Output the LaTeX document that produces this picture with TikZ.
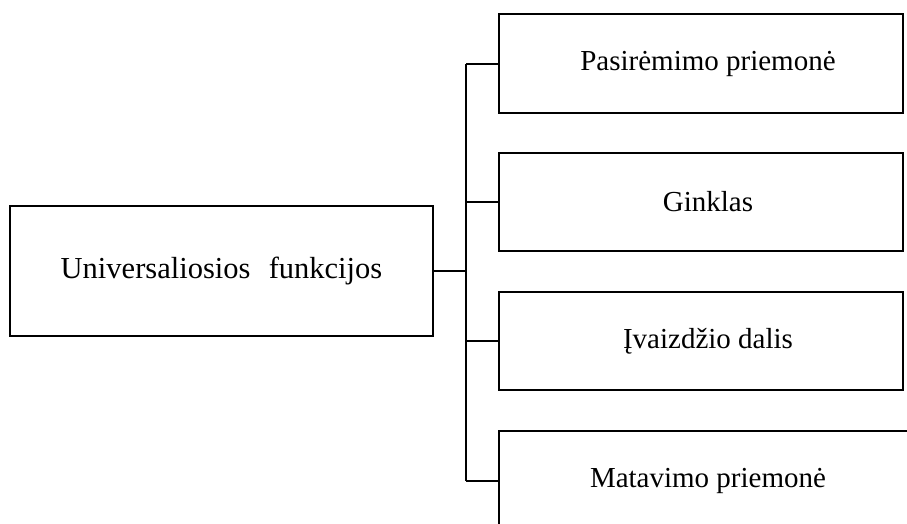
\documentclass[tikz,border=0pt]{standalone}
\usepackage{fontspec}
\setmainfont{Liberation Serif}
\begin{document}
\begin{tikzpicture}[x=1pt,y=-1pt,
  box/.style={draw=black,line width=2pt,rectangle,inner sep=0pt,font=\fontsize{29}{34}\selectfont},
  bigbox/.style={box,font=\fontsize{30.5}{36}\selectfont},
  conn/.style={draw=black,line width=2pt}]
\useasboundingbox (0,0) rectangle (907,523);
\clip (0,0) rectangle (907,523);
\node[bigbox,minimum width=423pt,minimum height=130pt] (L) at (221.5,271) {Universaliosios\hspace{0.6em}funkcijos};
\node[box,minimum width=404pt,minimum height=99pt] (R1) at (701,63.5) {\hspace*{14pt}Pasirėmimo priemonė};
\node[box,minimum width=404pt,minimum height=98pt] (R2) at (701,202) {\hspace*{14pt}Ginklas};
\node[box,minimum width=404pt,minimum height=98pt] (R3) at (701,341) {\hspace*{14pt}Įvaizdžio dalis};
\node[box,minimum width=416pt,minimum height=99pt] (R4) at (707,480.5) {\hspace*{2pt}Matavimo priemonė};
\coordinate (V) at (466,271);
\draw[conn] (L.east) -- (V);
\draw[conn] (V |- R1.west) -- (V |- R4.west);
\draw[conn] (V |- R1.west) -- (R1.west);
\draw[conn] (V |- R2.west) -- (R2.west);
\draw[conn] (V |- R3.west) -- (R3.west);
\draw[conn] (V |- R4.west) -- (R4.west);
\end{tikzpicture}
\end{document}
